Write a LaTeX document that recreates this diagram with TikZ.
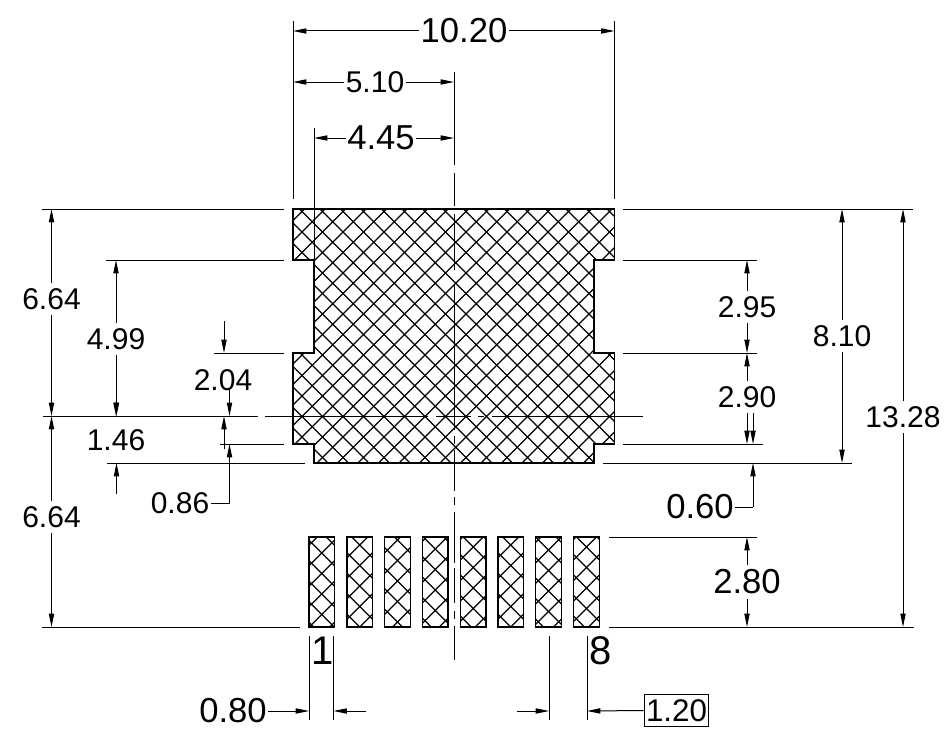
\documentclass[tikz,border=0pt]{standalone}
\usepackage{fontspec}
\setmainfont{Liberation Sans}
\usetikzlibrary{arrows.meta}
\tikzset{
  x=0.75pt,y=-0.75pt,
  dimline/.style={line width=0.75pt,-{Triangle[length=10pt,width=3.9pt]}},
  thin ext/.style={line width=0.75pt},
  outline/.style={line width=0.8pt},
  hatchline/.style={line width=0.85pt,black},
  num/.style={inner xsep=1pt,inner ysep=3.5pt,font=\fontsize{22.5}{23}\selectfont},
  numL/.style={inner xsep=1pt,inner ysep=3.5pt,font=\fontsize{26}{26}\selectfont},
  numX/.style={inner sep=0pt,font=\fontsize{30}{30}\selectfont},
}
% #1 c0, #2 d0, #3 period, #4 ymin, #5 ymax, #6 count
\newcommand{\hatchfill}[6]{%
  \foreach \k in {-#6,...,#6}{%
    \pgfmathsetmacro{\cc}{#1+\k*#3}%
    \pgfmathsetmacro{\dd}{#2+\k*#3}%
    \draw[hatchline] (\cc-#4,#4) -- (\cc-#5,#5);
    \draw[hatchline] (\dd+#4,#4) -- (\dd+#5,#5);
  }%
}
\newcommand{\padshape}[4]{% left, right, crossing y at pad centre, name
  \pgfmathsetmacro{\pcx}{(#1+#2)/2}%
  \pgfmathsetmacro{\pc}{\pcx+#3}%
  \pgfmathsetmacro{\pd}{\pcx-#3}%
  \begin{scope}
    \clip (#1,537) rectangle (#2,627);
    \hatchfill{\pc}{\pd}{20.5}{537}{627}{10}
  \end{scope}
  \draw[outline] (#1,537) rectangle (#2,627);
  \coordinate (#4) at (#1,627);
}
\begin{document}
\begin{tikzpicture}
\useasboundingbox (0,0) rectangle (944,749);
% datums
\coordinate (xL) at (293,0);
\coordinate (xN) at (314,0);
\coordinate (xC) at (454,0);
\coordinate (xR) at (614.5,0);
\coordinate (yT) at (0,209);
\coordinate (yA) at (0,260);
\coordinate (yB) at (0,353);
\coordinate (yM) at (0,416);
\coordinate (yD) at (0,444);
\coordinate (yE) at (0,463);
\coordinate (yP) at (0,537);
\coordinate (yG) at (0,627);
% body
\begin{scope}
  \clip (293,209) -- (293,260) -- (314,260) -- (314,353) -- (293,353) -- (293,444) -- (314,444) -- (314,463) -- (594,463) -- (594,444) -- (614.5,444) -- (614.5,353) -- (594,353) -- (594,260) -- (614.5,260) -- (614.5,209) -- cycle;
  \hatchfill{616}{70}{20.5}{200}{470}{32}
\end{scope}
\draw[outline] (293,209) -- (293,260) -- (314,260) -- (314,353) -- (293,353) -- (293,444) -- (314,444) -- (314,463) -- (594,463) -- (594,444) -- (614.5,444) -- (614.5,353) -- (594,353) -- (594,260) -- (614.5,260) -- (614.5,209) -- cycle;
% pads
\padshape{309}{334.5}{553}{p1}
\padshape{347}{372.5}{545}{p2}
\padshape{384.5}{410.5}{540}{p3}
\padshape{422.5}{448}{549}{p4}
\padshape{460.5}{486}{547}{p5}
\padshape{498}{523.5}{545}{p6}
\padshape{535.5}{561.5}{550}{p7}
\padshape{573.5}{599.5}{547}{p8}
% centre lines
\draw[thin ext] (454,72) -- (454,165) (454,173) -- (454,206) (454,214) -- (454,270) (454,285) -- (454,430) (454,436) -- (454,444) (454,450) -- (454,491) (454,497) -- (454,505) (454,512) -- (454,563) (454,568) -- (454,603) (454,611) -- (454,619) (454,626) -- (454,660);
\draw[thin ext] (43,416) -- (258,416) (265,416) -- (428,416) (436,416) -- (471,416) (478,416) -- (484,416) (492,416) -- (643,416);
% extension lines
\draw[thin ext] (293,21) -- (293,199) (614.5,21) -- (614.5,199) (314,128) -- (314,260);
\draw[thin ext] (42,209) -- (284,209) (623,209) -- (913,209);
\draw[thin ext] (106,260) -- (284,260) (623,260) -- (757,260);
\draw[thin ext] (214,353) -- (284,353) (623,353) -- (757,353);
\draw[thin ext] (220,444) -- (284,444) (623,444) -- (763,444);
\draw[thin ext] (107,463) -- (305,463) (603,463) -- (852,463);
\draw[thin ext] (609,537) -- (757,537);
\draw[thin ext] (42,627) -- (300,627) (609,627) -- (914,627);
\draw[thin ext] (309,636) -- (309,720) (333.5,636) -- (333.5,720) (549,636) -- (549,720) (587,636) -- (587,720);
% top dims
\node[numL] (n1020) at (464,31) {10.20};
\draw[dimline] (n1020.west) -- (xL|-n1020.west);
\draw[dimline] (n1020.east) -- (xR|-n1020.east);
\node[num] (n510) at (375,82) {5.10};
\draw[dimline] (n510.west) -- (xL|-n510.west);
\draw[dimline] (n510.east) -- (xC|-n510.east);
\node[numL] (n445) at (381,138) {4.45};
\draw[dimline] (n445.west) -- (xN|-n445.west);
\draw[dimline] (n445.east) -- (xC|-n445.east);
% left dims
\node[num] (n664a) at (51.5,299) {6.64};
\draw[dimline] (n664a.north) -- (n664a.north|-yT);
\draw[dimline] (n664a.south) -- (n664a.south|-yM);
\node[num] (n664b) at (51.5,517) {6.64};
\draw[dimline] (n664b.north) -- (n664b.north|-yM);
\draw[dimline] (n664b.south) -- (n664b.south|-yG);
\node[num] (n499) at (116,339) {4.99};
\draw[dimline] (n499.north) -- (n499.north|-yA);
\draw[dimline] (n499.south) -- (n499.south|-yM);
\node[num] (n204) at (223,380) {2.04};
\coordinate (s204a) at (224,321);
\coordinate (s204b) at (229.5,390);
\draw[dimline] (s204a) -- (s204a|-yB);
\draw[dimline] (s204b) -- (s204b|-yM);
\node[num] (n146) at (116,440) {1.46};
\coordinate (s146a) at (116.5,386);
\coordinate (s146b) at (116.5,494);
\draw[dimline] (s146a) -- (s146a|-yM);
\draw[dimline] (s146b) -- (s146b|-yE);
\coordinate (s204c) at (224,449);
\draw[dimline] (s204c) -- (s204c|-yM);
\node[num] (n086) at (180,503) {0.86};
\coordinate (k086) at (229.5,503);
\draw[thin ext] (n086.east) -- (k086);
\draw[dimline] (k086) -- (k086|-yD);
% right dims
\node[num] (n295) at (747,307) {2.95};
\draw[dimline] (n295.north) -- (n295.north|-yA);
\draw[dimline] (n295.south) -- (n295.south|-yB);
\node[num] (n290) at (747,397) {2.90};
\draw[dimline] (n290.north) -- (n290.north|-yB);
\draw[dimline] (n290.south) -- (n290.south|-yD);
\coordinate (s290) at (753,413);
\draw[dimline] (s290) -- (s290|-yD);
\node[numL] (n060) at (700,507) {0.60};
\coordinate (k060) at (753,507);
\draw[thin ext] (n060.east) -- (k060);
\draw[dimline] (k060) -- (k060|-yE);
\node[num] (n810) at (842,336) {8.10};
\draw[dimline] (n810.north) -- (n810.north|-yT);
\draw[dimline] (n810.south) -- (n810.south|-yE);
\node[num] (n1328) at (903,417) {13.28};
\draw[dimline] (n1328.north) -- (n1328.north|-yT);
\draw[dimline] (n1328.south) -- (n1328.south|-yG);
\node[numL] (n280) at (747,582) {2.80};
\draw[dimline] (n280.north) -- (n280.north|-yP);
\draw[dimline] (n280.south) -- (n280.south|-yG);
% bottom
\node[numX] (l1) at (323,651) {1};
\node[numX] (l8) at (601,651) {8};
\node[numL] (n080) at (233,711) {0.80};
\coordinate (a1) at (309,711);
\coordinate (a2) at (333.5,711);
\coordinate (s2) at (366,711);
\coordinate (a3) at (549,711);
\coordinate (s3) at (517,711);
\coordinate (a4) at (587,711);
\draw[dimline] (n080.east) -- (a1);
\draw[dimline] (s2) -- (a2);
\draw[dimline] (s3) -- (a3);
\node[draw,thin ext,minimum width=48.5pt,minimum height=24.5pt,inner sep=0pt,font=\fontsize{23.5}{24}\selectfont] (n120) at (676.5,710.5) {1.20};
\draw[dimline] (n120.west) -- (a4);
\end{tikzpicture}
\end{document}
